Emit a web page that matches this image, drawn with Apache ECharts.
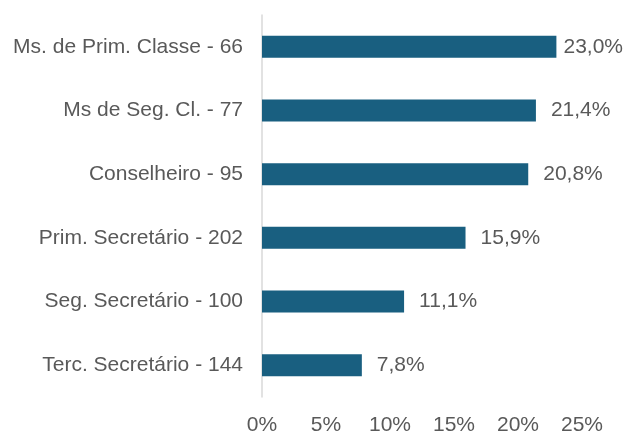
<!DOCTYPE html>
<html>
<head>
<meta charset="utf-8">
<script src="https://cdn.jsdelivr.net/npm/echarts@6/dist/echarts.min.js"></script>
<style>
  html, body { margin: 0; padding: 0; background: #fff; }
  #chart { width: 625px; height: 434px; }
</style>
</head>
<body>
<div id="chart"></div>
<script>
// categorias (de cima para baixo)
const categories = [
  'Ms. de Prim. Classe - 66',
  'Ms de Seg. Cl. - 77',
  'Conselheiro - 95',
  'Prim. Secretário - 202',
  'Seg. Secretário - 100',
  'Terc. Secretário - 144'
];
// percentuais
const values = [23.0, 21.4, 20.8, 15.9, 11.1, 7.8];
const xTicks = [0, 5, 10, 15, 20, 25];

const textColor = '#595959';
const font = 'Liberation Sans, Arial, sans-serif';
const W = 625;

let chart = echarts.init(document.getElementById('chart'));
chart.setOption({
  animation: false,
  grid: { left: 262, right: 43, top: 15, bottom: 37, outerBoundsMode: 'none', containLabel: false },
  xAxis: {
    type: 'value',
    min: xTicks[0],
    max: xTicks[xTicks.length - 1],
    interval: 5,
    axisLine: { show: false },
    axisTick: { show: false },
    splitLine: { show: false },
    axisLabel: {
      color: textColor,
      fontSize: 21,
      fontFamily: font,
      margin: 18,
      formatter: v => v + '%'
    }
  },
  yAxis: {
    type: 'category',
    inverse: true,
    data: categories,
    axisLine: { show: true, lineStyle: { color: '#d9d9d9', width: 1.5 } },
    axisTick: { show: false },
    axisLabel: {
      color: textColor,
      fontSize: 21,
      fontFamily: font,
      margin: 19
    }
  },
  series: [{
    type: 'bar',
    data: values,
    barWidth: 22,
    itemStyle: { color: '#195f80' },
    label: {
      show: true,
      position: 'right',
      distance: 15,
      color: textColor,
      fontSize: 21,
      fontFamily: font,
      formatter: p => p.value.toFixed(1).replace('.', ',') + '%'
    },
    // empurra o rótulo para dentro da área visível, como no original
    labelLayout: p => ({
      x: Math.min(p.labelRect.x, W - 2 - p.labelRect.width),
      y: p.rect.y + p.rect.height / 2,
      align: 'left',
      verticalAlign: 'middle'
    })
  }]
});
</script>
</body>
</html>
